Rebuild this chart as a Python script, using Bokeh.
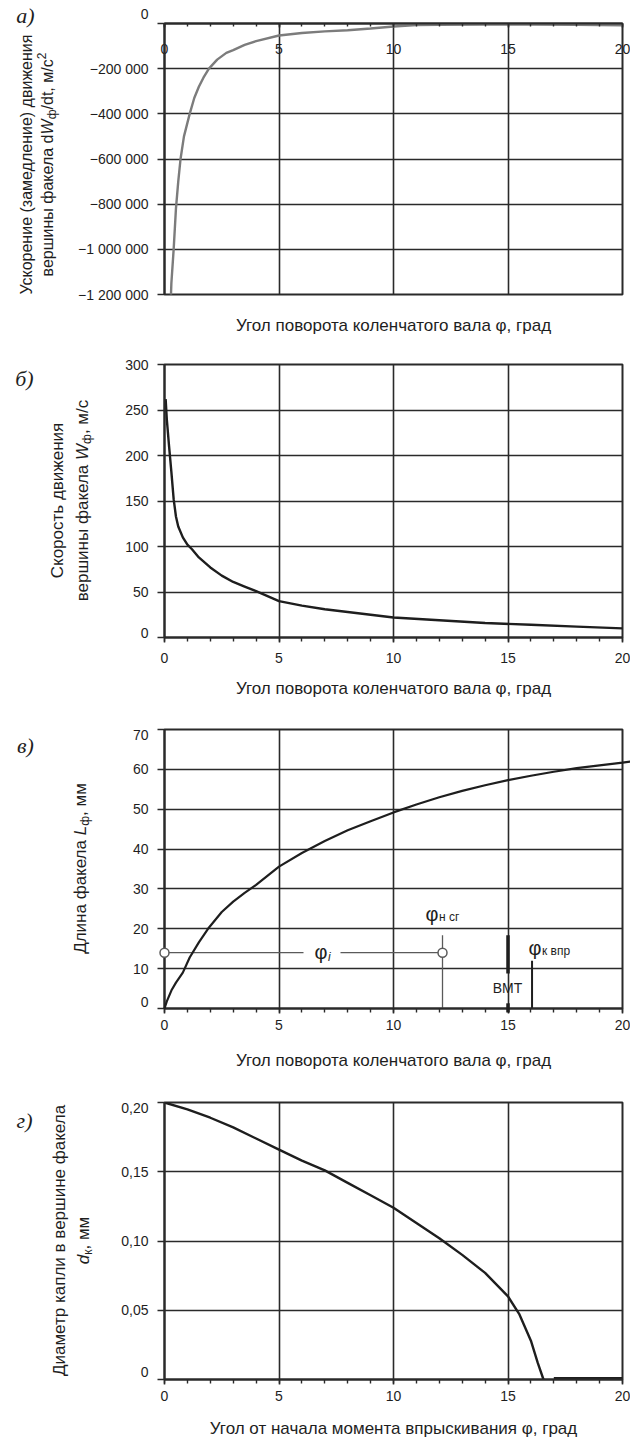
import glob
import math
from bokeh.plotting import figure
from bokeh.models import FixedTicker, LinearAxis, Range1d
from bokeh.core.properties import value
from bokeh.layouts import column
from bokeh.embed import file_html
from bokeh.resources import INLINE

# ---------------- data ----------------
x_ticks = [0, 5, 10, 15, 20]
x_minor = list(range(0, 21))
x_tick_labels = ["0", "5", "10", "15", "20"]

# a) acceleration of the spray tip
accel_phi = [0.25, 0.3, 0.4, 0.5, 0.6, 0.7, 0.85, 1.0, 1.1, 1.3, 1.5, 1.7, 1.94, 2.3, 2.7,
             3.0, 3.5, 4.0, 5.0, 6.0, 7.0, 8.0, 9.0, 10.0, 11.0, 12.0, 14.0, 16.0, 18.0, 20.0]
accel_val = [-1300000, -1150000, -1000000, -820000, -700000, -600000, -500000, -440000,
             -400000, -330000, -280000, -240000, -200000, -160000, -130000, -118000, -95000,
             -78000, -53000, -42000, -35000, -30000, -22000, -13000, -7000, -6000, -5000,
             -5000, -6000, -8000]
accel_ticks = [0, -200000, -400000, -600000, -800000, -1000000, -1200000]
accel_tick_labels = ["0", "−200 000", "−400 000", "−600 000", "−800 000", "−1 000 000", "−1 200 000"]

# b) velocity of the spray tip
vel_phi = [0.05, 0.1, 0.2, 0.3, 0.4, 0.5, 0.6, 0.8, 1.0, 1.2, 1.5, 2.0, 2.5, 3.0, 3.5, 4.0,
           5.0, 6.0, 7.0, 8.0, 9.0, 10.0, 12.0, 14.0, 16.0, 18.0, 20.0]
vel_val = [262, 240, 210, 182, 152, 133, 122, 110, 102, 97, 88, 77, 68, 61, 56, 51,
           40, 35, 31, 28, 25, 22, 19, 16, 14, 12, 10]
vel_ticks = [0, 50, 100, 150, 200, 250, 300]
vel_tick_labels = ["0", "50", "100", "150", "200", "250", "300"]

# c) spray length
len_phi = [0, 0.1, 0.3, 0.5, 0.8, 1.1, 1.5, 1.9, 2.5, 3.0, 3.5, 4.0, 5.0, 6.0, 7.0, 8.0, 9.0,
           10.0, 11.0, 12.0, 13.0, 14.0, 15.0, 16.0, 17.0, 18.0, 19.0, 20.0, 20.4]
len_val = [0, 1.8, 4.5, 6.5, 9.0, 12.8, 16.6, 20.0, 24.2, 26.8, 29.0, 31.0, 35.6, 39.0, 42.0,
           44.7, 47.0, 49.2, 51.2, 53.0, 54.6, 56.0, 57.3, 58.4, 59.4, 60.3, 61.0, 61.7, 62.0]
len_ticks = [0, 10, 20, 30, 40, 50, 60, 70]
len_tick_labels = ["0", "10", "20", "30", "40", "50", "60", "70"]
phi_i_level = 14          # level of the φi bracket, mm
phi_n_sg = 12.14          # start of combustion, deg
phi_bmt = 15              # TDC (ВМТ), deg
phi_k_vpr = 16.05         # end of injection, deg

# d) droplet diameter at spray tip
drop_phi = [0, 1, 2, 3, 4, 5, 6, 7, 8, 9, 10, 11, 12, 13, 14, 15, 15.5, 16, 16.3, 16.55,
            float("nan"), 17, 20]
drop_val = [0.200, 0.195, 0.189, 0.182, 0.174, 0.166, 0.158, 0.151, 0.142, 0.133, 0.124,
            0.113, 0.102, 0.090, 0.077, 0.060, 0.047, 0.028, 0.012, 0.0, float("nan"),
            0.001, 0.001]
drop_ticks = [0, 0.05, 0.10, 0.15, 0.20]
drop_tick_labels = ["0", "0,05", "0,10", "0,15", "0,20"]

# ---------------- style ----------------
FONT = "Liberation Sans"
SERIF = "Liberation Serif"
INK = "#1e1e1e"
GRID = "#2a2a2a"
W = 630
LEFT = 164
FRAME_W = 458
X0_PAGE = 164
TS = 17      # title size
SS = 12      # sub/superscript size


def _find(name):
    c = glob.glob("/usr/share/fonts/**/" + name, recursive=True)
    return c[0] if c else None


try:
    from PIL import ImageFont
    _paths = {"normal": _find("LiberationSans-Regular.ttf"),
              "italic": _find("LiberationSans-Italic.ttf")}

    def text_w(s, size, style="normal"):
        p = _paths.get(style)
        if not p:
            return 0.53 * size * len(s)
        return ImageFont.truetype(p, size).getlength(s)
except Exception:
    def text_w(s, size, style="normal"):
        return 0.53 * size * len(s)


class Panel:
    def __init__(self, height, top, bottom, yr, page_top, x_axis="below"):
        self.yr = yr
        self.ft = page_top + top
        self.fh = height - top - bottom
        p = figure(width=W, height=height, x_range=Range1d(0, 20), y_range=Range1d(*yr),
                   output_backend="svg", toolbar_location=None,
                   min_border_left=LEFT, min_border_right=W - LEFT - FRAME_W,
                   min_border_top=top, min_border_bottom=bottom,
                   x_axis_location=x_axis)
        p.background_fill_color = "white"
        p.border_fill_color = "white"
        p.outline_line_color = GRID
        p.outline_line_width = 2
        self.p = p

    def dx(self, px):
        return (px - X0_PAGE) / FRAME_W * 20.0

    def dy(self, py):
        lo, hi = self.yr
        return hi - (py - self.ft) / self.fh * (hi - lo)

    def label(self, px, py, text, size, style="normal", align="left", baseline="middle",
              font=FONT, angle=0.0, color=INK):
        r = self.p.text(x=[self.dx(px)], y=[self.dy(py)], text=value(text), angle=angle,
                        text_align=align, text_baseline=baseline, text_font=value(font),
                        text_font_size=value(f"{size}px"), text_font_style=value(style),
                        text_color=color)
        r.level = "overlay"

    def vtitle(self, cx, cy, pieces):
        widths = [text_w(t, s, st) for t, s, st, _ in pieces]
        y = cy + sum(widths) / 2.0
        for (t, s, st, off), w in zip(pieces, widths):
            self.label(cx + off, y, t, s, st, angle=math.pi / 2)
            y -= w


def style_y(p, ticks, labels, hide):
    ax = p.yaxis[0]
    ax.ticker = FixedTicker(ticks=ticks)
    ax.major_label_overrides = {t: ("" if t in hide else l) for t, l in zip(ticks, labels)}
    ax.major_label_text_font = FONT
    ax.major_label_text_font_size = "14px"
    ax.major_label_text_color = INK
    ax.major_tick_out = 7
    ax.major_tick_in = 0
    ax.major_tick_line_color = GRID
    ax.major_tick_line_width = 1.6
    ax.minor_tick_line_color = None
    ax.axis_line_color = GRID
    ax.axis_line_width = 2
    ax.major_label_standoff = 9
    p.ygrid.ticker = FixedTicker(ticks=ticks)
    p.ygrid.grid_line_color = GRID
    p.ygrid.grid_line_width = 1.6


def style_x(p, ax, tick_in, tick_out, standoff, label=None, label_standoff=0):
    ax.ticker = FixedTicker(ticks=x_ticks, minor_ticks=x_minor)
    ax.major_label_overrides = dict(zip(x_ticks, x_tick_labels))
    ax.major_label_text_font = FONT
    ax.major_label_text_font_size = "14px"
    ax.major_label_text_color = INK
    ax.major_tick_in = tick_in
    ax.major_tick_out = tick_out
    ax.minor_tick_in = max(tick_in - 1, 0)
    ax.minor_tick_out = max(tick_out - 1, 0)
    ax.major_tick_line_color = GRID
    ax.minor_tick_line_color = GRID
    ax.major_tick_line_width = 1.6
    ax.minor_tick_line_width = 1.4
    ax.axis_line_color = GRID
    ax.axis_line_width = 2
    ax.major_label_standoff = standoff
    if label:
        ax.axis_label = label
        ax.axis_label_text_font = FONT
        ax.axis_label_text_font_size = f"{TS}px"
        ax.axis_label_text_font_style = "normal"
        ax.axis_label_text_color = INK
        ax.axis_label_standoff = label_standoff
    p.xgrid.ticker = FixedTicker(ticks=x_ticks)
    p.xgrid.grid_line_color = GRID
    p.xgrid.grid_line_width = 1.6


XLABEL = "Угол поворота коленчатого вала φ, град"
XLABEL_D = "Угол от начала момента впрыскивания φ, град"

# ---------------- panel a ----------------
A = Panel(345, 23, 51, (-1200000, 0), 0, x_axis="above")
pa = A.p
style_y(pa, accel_ticks, accel_tick_labels, hide=[0])
style_x(pa, pa.xaxis[0], 4, 0, -30)
bottom_ax = LinearAxis(ticker=FixedTicker(ticks=[]), axis_label=XLABEL)
bottom_ax.axis_line_color = None
bottom_ax.major_tick_line_color = None
bottom_ax.minor_tick_line_color = None
bottom_ax.major_label_standoff = 0
bottom_ax.major_tick_out = 0
bottom_ax.minor_tick_out = 0
bottom_ax.axis_label_text_font = FONT
bottom_ax.axis_label_text_font_size = f"{TS}px"
bottom_ax.axis_label_text_font_style = "normal"
bottom_ax.axis_label_text_color = INK
bottom_ax.axis_label_standoff = 21
pa.add_layout(bottom_ax, "below")
pa.line(accel_phi, accel_val, line_color="#7c7c7c", line_width=2.4)
A.label(148, 13, "0", 14, align="right")
A.label(25, 15, "а)", 22, "italic", align="center", font=SERIF)
A.vtitle(26, 164, [("Ускорение (замедление) движения", 16, "normal", 0)])
A.vtitle(47, 164, [("вершины факела d", 16, "normal", 0), ("W", 16, "italic", 0),
                   ("ф", SS, "normal", 4), ("/dt, м/с", 16, "normal", 0),
                   ("2", SS, "normal", -6)])

# ---------------- panel b ----------------
B = Panel(367, 19, 75, (0, 300), 345)
pb = B.p
style_y(pb, vel_ticks, vel_tick_labels, hide=[0])
style_x(pb, pb.xaxis[0], 0, 5, 10, XLABEL, 13)
pb.line(vel_phi, vel_val, line_color=INK, line_width=2.4)
B.label(148, 632, "0", 14, align="right")
B.label(24, 378, "б)", 22, "italic", align="center", font=SERIF)
B.vtitle(57, 500, [("Скорость движения", TS, "normal", 0)])
B.vtitle(82, 500, [("вершины факела ", TS, "normal", 0), ("W", TS, "italic", 0),
                   ("ф", SS, "normal", 4), (", м/с", TS, "normal", 0)])

# ---------------- panel c ----------------
C = Panel(368, 17, 72, (0, 70), 712)
pc = C.p
style_y(pc, len_ticks, len_tick_labels, hide=[0, 70])
style_x(pc, pc.xaxis[0], 0, 5, 6, XLABEL, 18)
curve_c = pc.line(len_phi, len_val, line_color=INK, line_width=2.2)
curve_c.level = "overlay"
gap_lo, gap_hi = C.dx(303), C.dx(340)
pc.segment(x0=[0, gap_hi, phi_n_sg], y0=[phi_i_level, phi_i_level, 0],
           x1=[gap_lo, phi_n_sg, phi_n_sg], y1=[phi_i_level, phi_i_level, 18.4],
           line_color="#5a5a5a", line_width=1.3)
pc.segment(x0=[phi_bmt], y0=[8.8], x1=[phi_bmt], y1=[18.4], line_color=INK, line_width=3.5)
tick_bmt = pc.segment(x0=[phi_bmt], y0=[-1.0], x1=[phi_bmt], y1=[1.3], line_color=INK,
                      line_width=3.5)
tick_bmt.level = "overlay"
pc.segment(x0=[phi_k_vpr], y0=[0], x1=[phi_k_vpr], y1=[12], line_color=INK, line_width=2)
circ = pc.scatter([0, phi_n_sg], [phi_i_level, phi_i_level], size=9, marker="circle",
                  fill_color="white", line_color="#5a5a5a", line_width=1.5)
circ.level = "overlay"
phi_w = text_w("φ", 20)
C.label(314, 951, "φ", 20)
C.label(314 + phi_w + 0.5, 956, "i", 12, "italic")
C.label(425, 913, "φ", 20)
C.label(425 + phi_w + 0.5, 916, "н сг", 12)
C.label(528, 947, "φ", 20)
C.label(528 + phi_w + 0.5, 950, "к впр", 12)
C.label(507, 987, "ВМТ", 14, align="center")
C.label(148, 734, "70", 14, align="right")
C.label(148, 1001, "0", 14, align="right")
C.label(25, 745, "в)", 22, "italic", align="center", font=SERIF)
C.vtitle(80, 868, [("Длина факела ", TS, "normal", 0), ("L", TS, "italic", 0),
                   ("ф", SS, "normal", 4), (", мм", TS, "normal", 0)])

# ---------------- panel d ----------------
D = Panel(360, 22, 61, (0, 0.2), 1080)
pd_ = D.p
style_y(pd_, drop_ticks, drop_tick_labels, hide=[0, 0.20])
style_x(pd_, pd_.xaxis[0], 0, 5, 6, XLABEL_D, 15)
pd_.line(drop_phi, drop_val, line_color=INK, line_width=2.4)
D.label(148, 1107, "0,20", 14, align="right")
D.label(148, 1371, "0", 14, align="right")
D.label(24, 1120, "г)", 22, "italic", align="center", font=SERIF)
D.vtitle(59, 1240, [("Диаметр капли в вершине факела", TS, "normal", 0)])
D.vtitle(83, 1240, [("d", TS, "italic", 0), ("к", SS, "normal", 4), (", мм", TS, "normal", 0)])

layout = column(pa, pb, pc, pd_, spacing=0)
open("out.html", "w").write(file_html(layout, INLINE))
